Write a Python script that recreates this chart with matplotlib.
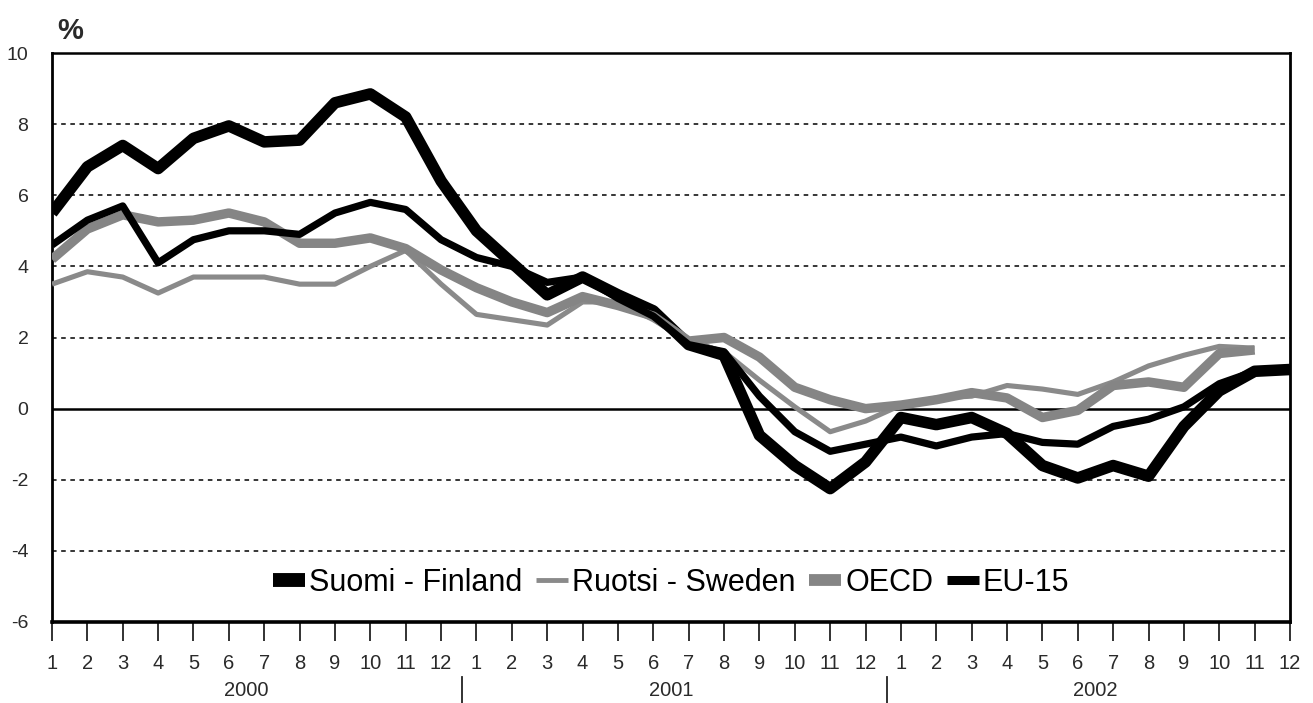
import numpy as np
import matplotlib
matplotlib.use("Agg")
import matplotlib.pyplot as plt
from matplotlib.lines import Line2D
import matplotlib.transforms as mtransforms

plt.rcParams['font.family'] = ['Liberation Sans', 'DejaVu Sans']

# ---- data ----
months = [str(m) for m in range(1, 13)] * 3
years = ["2000", "2001", "2002"]
series_names = ["Suomi - Finland", "Ruotsi - Sweden", "OECD", "EU-15"]

finland = [5.5, 6.8, 7.4, 6.75, 7.6, 7.95, 7.5, 7.55, 8.6, 8.85, 8.2, 6.4,
           5.0, 4.1, 3.2, 3.7, 3.2, 2.75, 1.8, 1.5, -0.75, -1.6, -2.25, -1.5,
           -0.25, -0.45, -0.25, -0.7, -1.6, -1.95, -1.6, -1.9, -0.5, 0.5, 1.05, 1.1]
sweden = [3.5, 3.85, 3.7, 3.25, 3.7, 3.7, 3.7, 3.5, 3.5, 4.0, 4.45, 3.5,
          2.65, 2.5, 2.35, 3.0, 3.0, 2.5, 1.9, 1.6, 0.8, 0.05, -0.65, -0.35,
          0.1, 0.3, 0.35, 0.65, 0.55, 0.4, 0.75, 1.2, 1.5, 1.75, 1.7, np.nan]
oecd = [4.2, 5.05, 5.45, 5.25, 5.3, 5.5, 5.25, 4.65, 4.65, 4.8, 4.5, 3.9,
        3.4, 3.0, 2.7, 3.15, 2.9, 2.6, 1.9, 2.0, 1.45, 0.6, 0.25, 0.0,
        0.1, 0.25, 0.45, 0.3, -0.25, -0.05, 0.65, 0.75, 0.6, 1.55, 1.65, np.nan]
eu15 = [4.6, 5.3, 5.7, 4.1, 4.75, 5.0, 5.0, 4.9, 5.5, 5.8, 5.6, 4.75,
        4.25, 4.0, 3.55, 3.7, 3.1, 2.6, 1.8, 1.6, 0.35, -0.65, -1.2, -1.0,
        -0.8, -1.05, -0.8, -0.7, -0.95, -1.0, -0.5, -0.3, 0.05, 0.7, 1.05, 1.1]

yticks = [-6, -4, -2, 0, 2, 4, 6, 8, 10]

# ---- figure ----
fig = plt.figure(figsize=(13.13, 7.03), dpi=100)
ax = fig.add_axes([52/1313, 1-622/703, (1290-52)/1313, (622-53)/703])

x = np.arange(len(months))
text_color = "#2a2a2a"

# gridlines
for yv in [-4, -2, 2, 4, 6, 8]:
    ax.axhline(yv, color="black", lw=1.1, linestyle=(0, (3, 3)), zorder=1)
ax.axhline(0, color="black", lw=1.8, zorder=1)

styles = [
    dict(color="black", lw=8.3),
    dict(color="#8a8a8a", lw=3.7),
    dict(color="#858585", lw=6.8),
    dict(color="black", lw=5.2),
]
data = [finland, sweden, oecd, eu15]
for d, st in zip(data, styles):
    ax.plot(x, d, solid_joinstyle="round", solid_capstyle="butt", zorder=3, **st)

ax.set_xlim(0, len(months) - 1)
ax.set_ylim(-6, 10)
ax.set_yticks(yticks)
ax.set_yticklabels([str(v) for v in yticks])
ax.set_xticks(x)
ax.set_xticklabels(months)

ax.tick_params(axis="y", length=0, pad=17, labelsize=14, labelcolor=text_color)
ax.tick_params(axis="x", direction="out", length=14, width=1.3, pad=9,
               labelsize=14.5, labelcolor=text_color, color="#222222")

for side, w in [("left", 2.0), ("right", 2.0), ("top", 1.8), ("bottom", 2.6)]:
    ax.spines[side].set_linewidth(w)
    ax.spines[side].set_color("black")

# year labels and separators
trans = mtransforms.blended_transform_factory(ax.transData, fig.transFigure)
for i, yr in enumerate(years):
    ax.text(5.5 + 12 * i, 1 - 690/703, yr, transform=trans, ha="center", va="center",
            fontsize=14.5, color=text_color)
for sep in [11.6, 23.6]:
    ax.add_line(Line2D([sep, sep], [0, 1 - 677/703], transform=trans, color="#222222",
                       lw=1.3, clip_on=False))

# % label
fig.text(70/1313, 1 - 31/703, "%", ha="center", va="center", fontsize=21,
         fontweight="bold", color=text_color)

# legend
handles = [
    Line2D([], [], color="black", lw=10),
    Line2D([], [], color="#8a8a8a", lw=3.5),
    Line2D([], [], color="#858585", lw=8.5),
    Line2D([], [], color="black", lw=6.5),
]
for h in handles:
    h.set_solid_capstyle("butt")
leg = ax.legend(handles, series_names, loc="center", bbox_to_anchor=(0.5, 0.0685),
                ncol=4, frameon=False, fontsize=22, handlelength=1.05,
                handletextpad=0.13, columnspacing=0.45, borderpad=0)
for t in leg.get_texts():
    t.set_color("black")

fig.savefig("out.png", dpi=100)
